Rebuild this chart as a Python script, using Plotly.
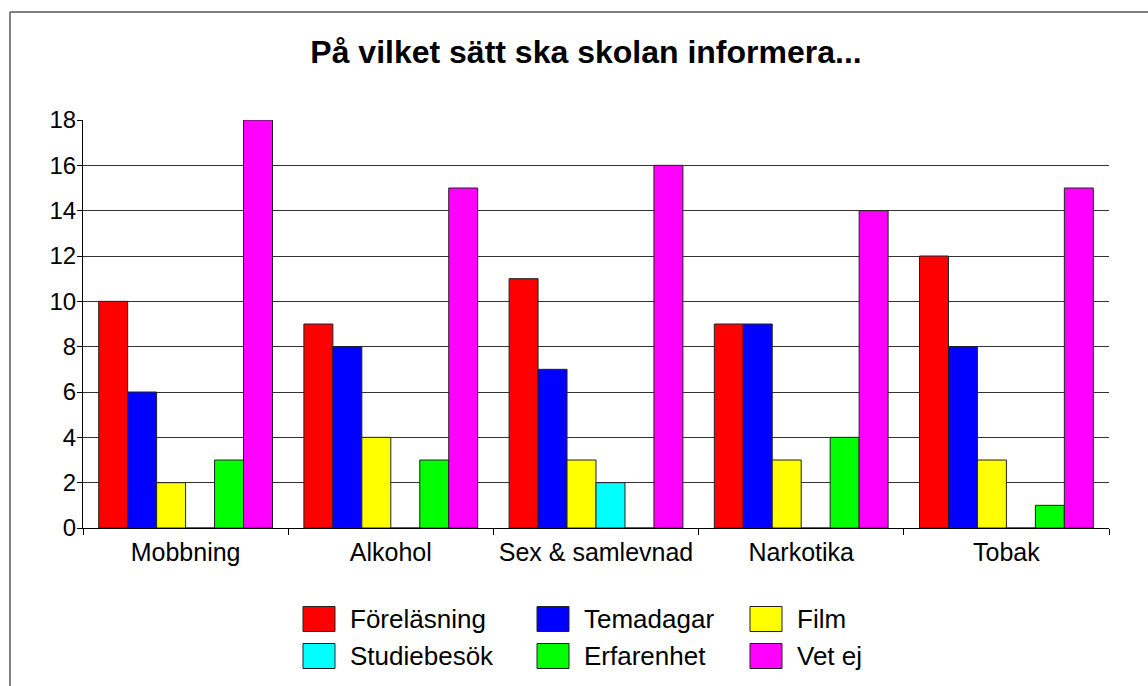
import plotly.graph_objects as go

categories = ["Mobbning", "Alkohol", "Sex & samlevnad", "Narkotika", "Tobak"]
series_names = ["Föreläsning", "Temadagar", "Film", "Studiebesök", "Erfarenhet", "Vet ej"]
forelasning = [10, 9, 11, 9, 12]
temadagar = [6, 8, 7, 9, 8]
film = [2, 4, 3, 3, 3]
studiebesok = [0, 0, 2, 0, 0]
erfarenhet = [3, 3, 0, 4, 1]
vet_ej = [18, 15, 16, 14, 15]
series_values = [forelasning, temadagar, film, studiebesok, erfarenhet, vet_ej]
colors = ["#FF0000", "#0000FF", "#FFFF00", "#00FFFF", "#00FF00", "#FF00FF"]
y_ticks = [0, 2, 4, 6, 8, 10, 12, 14, 16, 18]

W, H = 1148, 686
L, R, T, B = 83, 1109, 120, 528
FONT = "Liberation Sans, Arial, sans-serif"

fig = go.Figure()
for name, vals, col in zip(series_names, series_values, colors):
    fig.add_trace(go.Bar(
        x=categories, y=vals, name=name,
        marker=dict(color=col, line=dict(color="#222222", width=1)),
        showlegend=False,
    ))

def px_x(px):
    return (px - L) / (R - L)

def px_y(py):
    return (B - py) / (B - T)

shapes = []
annotations = []
# outer chart frame (only left and top edges are visible in the picture)
frame = dict(color="#808080", width=2)
shapes.append(dict(type="line", xref="paper", yref="paper",
                   x0=px_x(10), x1=px_x(1150), y0=px_y(12), y1=px_y(12), line=frame))
shapes.append(dict(type="line", xref="paper", yref="paper",
                   x0=px_x(10), x1=px_x(10), y0=px_y(12), y1=px_y(690), line=frame))

# manual legend: 3 columns x 2 rows
col_x = [303, 537, 750]
row_y = [619, 656]
for i, (name, col) in enumerate(zip(series_names, colors)):
    r, c = divmod(i, 3)
    bx, by = col_x[c], row_y[r]
    shapes.append(dict(type="rect", xref="paper", yref="paper",
                       x0=px_x(bx), x1=px_x(bx + 32), y0=px_y(by + 12.5), y1=px_y(by - 12.5),
                       line=dict(color="#222222", width=1), fillcolor=col))
    annotations.append(dict(text=name, xref="paper", yref="paper",
                            x=px_x(bx + 45), y=px_y(by), xanchor="left", yanchor="middle",
                            showarrow=False, font=dict(family=FONT, size=26, color="#000000")))

fig.update_layout(
    width=W, height=H,
    margin=dict(l=L, r=W - R, t=T, b=H - B, pad=0),
    paper_bgcolor="white", plot_bgcolor="white",
    barmode="group", bargap=0.153, bargroupgap=0,
    title=dict(text="<b>På vilket sätt ska skolan informera...</b>",
               x=586 / W, xref="container", xanchor="center",
               y=1 - 52 / H, yref="container", yanchor="middle",
               font=dict(family=FONT, size=32, color="#000000")),
    font=dict(family=FONT, size=24, color="#000000"),
    shapes=shapes, annotations=annotations,
    showlegend=False,
)
fig.update_xaxes(
    type="category", tickson="boundaries", ticks="outside", ticklen=6,
    tickcolor="#000000", showline=True, linecolor="#000000", linewidth=1,
    showgrid=False, ticklabelstandoff=2,
    tickfont=dict(family=FONT, size=25, color="#000000"),
)
fig.update_yaxes(
    range=[0, 18], tickvals=y_ticks, ticks="outside", ticklen=5,
    tickcolor="#000000", showline=True, linecolor="#000000", linewidth=1,
    showgrid=True, gridcolor="#333333", gridwidth=1, zeroline=False,
    ticklabelstandoff=-4,
    tickfont=dict(family=FONT, size=24, color="#000000"),
)

fig.write_html(
    "out.html",
    config={"displayModeBar": False},
    post_script="document.body.style.margin='0';document.body.style.overflow='hidden';",
)
